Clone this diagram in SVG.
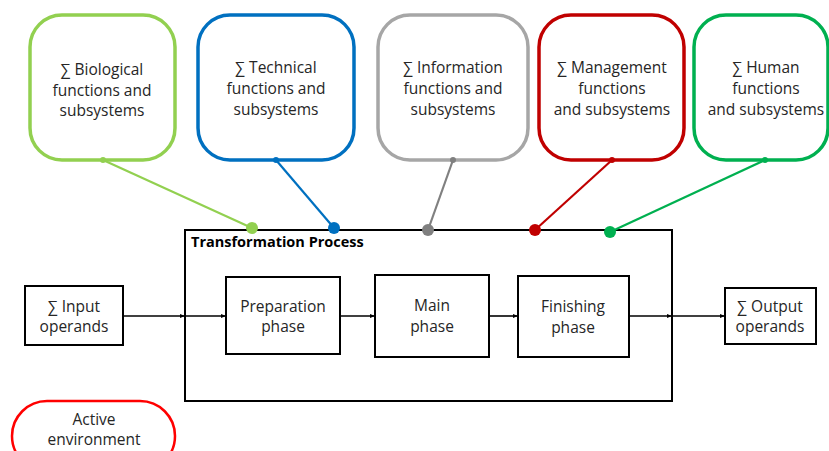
<svg xmlns="http://www.w3.org/2000/svg" width="829" height="451" viewBox="0 0 829 451">
<defs>
<style>
text{font-family:"Open Sans","Liberation Sans",sans-serif;font-size:15.5px;fill:#262626;text-anchor:middle}
.t{font-weight:bold;text-anchor:start;font-size:14.5px;fill:#000}
.cat{fill:#fff;stroke-width:3.5}
.box{fill:#fff;stroke:#000;stroke-width:2}
.flow{stroke:#000;stroke-width:1.6;fill:none;marker-end:url(#ah)}
.link{stroke-width:2.2;fill:none}
</style>
<marker id="ah" viewBox="0 0 10 10" refX="10" refY="5" markerWidth="5" markerHeight="5" orient="auto" markerUnits="userSpaceOnUse"><path d="M0,1 L10,5 L0,9 z" fill="#000"/></marker>
</defs>
<rect width="829" height="451" fill="#fff"/>
<g id="n-bio"><rect class="cat" x="30" y="15" width="145" height="145" rx="32" stroke="#92D050"/><text x="102" y="75">∑ Biological</text><text x="102" y="96">functions and</text><text x="102" y="116">subsystems</text></g>
<g id="n-tech"><rect class="cat" x="198" y="15" width="156" height="145" rx="32" stroke="#0070C0"/><text x="276" y="73">∑ Technical</text><text x="276" y="94">functions and</text><text x="276" y="115">subsystems</text></g>
<g id="n-info"><rect class="cat" x="378" y="15" width="150" height="145" rx="32" stroke="#A6A6A6"/><text x="453" y="73">∑ Information</text><text x="453" y="94">functions and</text><text x="453" y="115">subsystems</text></g>
<g id="n-mgmt"><rect class="cat" x="539" y="15" width="145" height="145" rx="32" stroke="#C00000"/><text x="612" y="73">∑ Management</text><text x="612" y="94">functions</text><text x="612" y="115">and subsystems</text></g>
<g id="n-human"><rect class="cat" x="694" y="15" width="134" height="145" rx="32" stroke="#00B050"/><text x="766" y="73">∑ Human</text><text x="766" y="94">functions</text><text x="766" y="115">and subsystems</text></g>
<g id="n-process"><rect class="box" x="185" y="230" width="487" height="171" stroke-width="2.5"/><text class="t" x="191" y="247">Transformation Process</text></g>
<g id="n-input"><rect class="box" x="25" y="286" width="98" height="59"/><text x="74" y="312">∑ Input</text><text x="74" y="332">operands</text></g>
<g id="n-prep"><rect class="box" x="226" y="277" width="114" height="77"/><text x="283" y="312">Preparation</text><text x="283" y="332">phase</text></g>
<g id="n-main"><rect class="box" x="375" y="275" width="114" height="82"/><text x="432" y="311">Main</text><text x="432" y="332">phase</text></g>
<g id="n-finish"><rect class="box" x="518" y="276" width="111" height="81"/><text x="573" y="312">Finishing</text><text x="573" y="333">phase</text></g>
<g id="n-output"><rect class="box" x="725" y="288" width="91" height="56"/><text x="770" y="312">∑ Output</text><text x="770" y="332">operands</text></g>
<g id="n-env"><rect x="12" y="401" width="163" height="70" rx="35" fill="#fff" stroke="#FF0000" stroke-width="2.5"/><text x="94" y="425">Active</text><text x="94" y="445">environment</text></g>
<g id="connectors">
<line class="flow" x1="123" y1="316" x2="185" y2="316"/>
<line class="flow" x1="185" y1="316" x2="226" y2="316"/>
<line class="flow" x1="340" y1="316" x2="375" y2="316"/>
<line class="flow" x1="489" y1="316" x2="518" y2="316"/>
<line class="flow" x1="629" y1="316" x2="672" y2="316"/>
<line class="flow" x1="672" y1="316" x2="725" y2="316"/>
<line class="link" x1="103" y1="160" x2="252" y2="228" stroke="#92D050"/><circle cx="103" cy="160" r="3" fill="#92D050"/><circle cx="252" cy="228" r="6" fill="#92D050"/>
<line class="link" x1="276" y1="160" x2="334" y2="228" stroke="#0070C0"/><circle cx="276" cy="160" r="3" fill="#0070C0"/><circle cx="334" cy="228" r="6" fill="#0070C0"/>
<line class="link" x1="453" y1="160" x2="428" y2="230" stroke="#808080"/><circle cx="453" cy="160" r="3" fill="#808080"/><circle cx="428" cy="230" r="6" fill="#808080"/>
<line class="link" x1="612" y1="160" x2="535" y2="230" stroke="#C00000"/><circle cx="612" cy="160" r="3" fill="#C00000"/><circle cx="535" cy="230" r="6" fill="#C00000"/>
<line class="link" x1="765" y1="160" x2="610" y2="232" stroke="#00B050"/><circle cx="765" cy="160" r="3" fill="#00B050"/><circle cx="610" cy="232" r="6" fill="#00B050"/>
</g>
</svg>
